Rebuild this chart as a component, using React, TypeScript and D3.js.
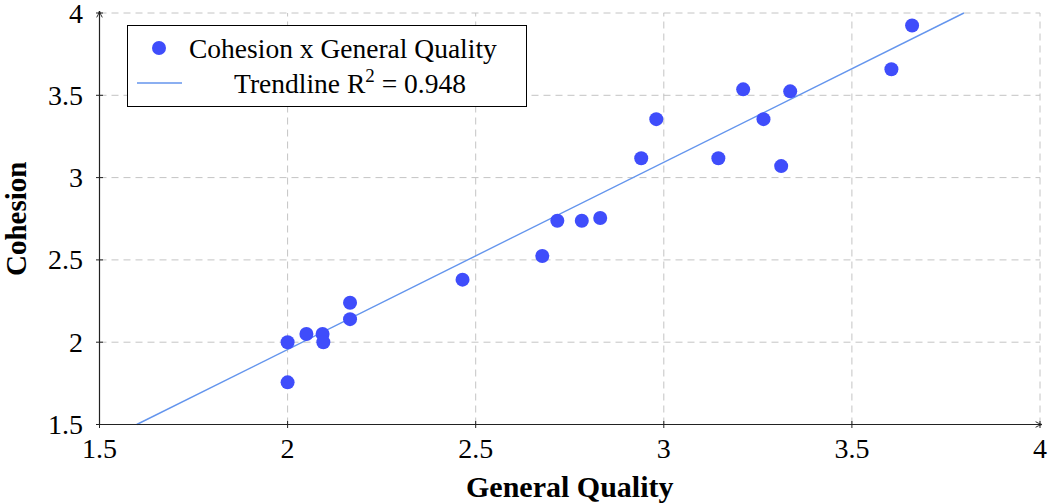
import React from "react";
import * as d3 from "d3";

const generalQuality = [2.0, 2.0, 2.05, 2.093, 2.095, 2.166, 2.166, 2.465, 2.677, 2.717, 2.782, 2.831, 2.94, 2.98, 3.145, 3.211, 3.265, 3.312, 3.336, 3.605, 3.66];
const cohesion = [2.0, 1.756, 2.05, 2.05, 2.0, 2.24, 2.14, 2.38, 2.524, 2.738, 2.738, 2.755, 3.118, 3.355, 3.118, 3.536, 3.355, 3.07, 3.524, 3.658, 3.924];
const xTicks = [1.5, 2, 2.5, 3, 3.5, 4];
const yTicks = [1.5, 2, 2.5, 3, 3.5, 4];
const trendSlope = 1.137;
const trendIntercept = -0.318;
const r2Label = "0.948";

const W = 1049;
const H = 504;
const FONT = "'Liberation Serif', 'Times New Roman', serif";

export default function App() {
  const x = d3.scaleLinear().domain([1.5, 4]).range([99.5, 1040]);
  const y = d3.scaleLinear().domain([1.5, 4]).range([424.5, 13]);
  const [x0, x1] = x.domain();
  const [y0, y1] = y.domain();
  const tx0 = Math.max(x0, (y0 - trendIntercept) / trendSlope);
  const tx1 = Math.min(x1, (y1 - trendIntercept) / trendSlope);
  const line = d3
    .line<number>()
    .x((d) => x(d))
    .y((d) => y(trendSlope * d + trendIntercept));

  const gridColor = "#c4c4c4";
  const axisColor = "#222";
  const blue = "#3f4dfb";
  const lineBlue = "#6495ed";

  return (
    <svg width={W} height={H} style={{ position: "absolute", left: 0, top: 0, background: "#fff" }}>
      <defs>
        <marker id="arr" viewBox="0 0 10 10" refX="9" refY="5" markerWidth="8" markerHeight="8" orient="auto" markerUnits="userSpaceOnUse">
          <path d="M1,1.5 Q5,4 9,5 Q5,6 1,8.5" fill="none" stroke={axisColor} strokeWidth={1.2} />
        </marker>
      </defs>
      <g stroke={gridColor} strokeWidth={1} strokeDasharray="7,5">
        {xTicks.slice(1).map((t) => (
          <line key={"gx" + t} x1={x(t)} x2={x(t)} y1={y(y0)} y2={y(y1)} />
        ))}
        {yTicks.slice(1).map((t) => (
          <line key={"gy" + t} x1={x(x0)} x2={x(x1)} y1={y(t)} y2={y(t)} />
        ))}
      </g>
      <path d={line([tx0, tx1]) || ""} fill="none" stroke={lineBlue} strokeWidth={1.4} />
      <g fill={blue}>
        {generalQuality.map((g, i) => (
          <circle key={i} cx={x(g)} cy={y(cohesion[i])} r={7} />
        ))}
      </g>
      <line x1={x(x0)} x2={x(x0)} y1={y(y0)} y2={y(y1) - 2} stroke={axisColor} strokeWidth={1.2} markerEnd="url(#arr)" />
      <line x1={x(x0)} x2={x(x1) + 2} y1={y(y0)} y2={y(y0)} stroke={axisColor} strokeWidth={1.2} markerEnd="url(#arr)" />
      <g stroke={axisColor} strokeWidth={1}>
        {xTicks.map((t) => (
          <line key={"tx" + t} x1={x(t)} x2={x(t)} y1={y(y0) - 3.5} y2={y(y0) + 3.5} />
        ))}
        {yTicks.map((t) => (
          <line key={"ty" + t} x1={x(x0) - 3.5} x2={x(x0) + 3.5} y1={y(t)} y2={y(t)} />
        ))}
      </g>
      <g fontFamily={FONT} fontSize={28} fill="#000">
        {xTicks.map((t) => (
          <text key={"lx" + t} x={x(t)} y={458} textAnchor="middle">
            {String(t)}
          </text>
        ))}
        {yTicks.map((t) => (
          <text key={"ly" + t} x={83} y={y(t) + 9.5} textAnchor="end">
            {String(t)}
          </text>
        ))}
      </g>
      <text x={(x(x0) + x(x1)) / 2} y={497} textAnchor="middle" fontFamily={FONT} fontWeight="bold" fontSize={30}>
        General Quality
      </text>
      <text transform={`translate(26,${(y(y0) + y(y1)) / 2}) rotate(-90)`} textAnchor="middle" fontFamily={FONT} fontWeight="bold" fontSize={29}>
        Cohesion
      </text>
      <g fontFamily={FONT} fontSize={27.5}>
        <rect x={127.5} y={25.5} width={399} height={81} fill="#fff" stroke="#000" strokeWidth={1} />
        <circle cx={159} cy={48} r={7} fill={blue} />
        <text x={189} y={57.5}>Cohesion x General Quality</text>
        <line x1={137} x2={182} y1={83} y2={83} stroke={lineBlue} strokeWidth={1.4} />
        <text x={350} y={92.5} textAnchor="middle">
          Trendline R
          <tspan dy={-11} fontSize={19}>2</tspan>
          <tspan dy={11}> = {r2Label}</tspan>
        </text>
      </g>
    </svg>
  );
}
